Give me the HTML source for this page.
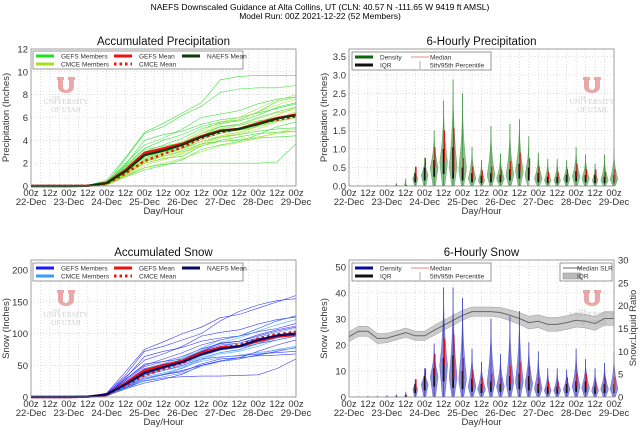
<!DOCTYPE html>
<html><head><meta charset="utf-8">
<style>
html,body{margin:0;padding:0;background:#fff;}
svg{display:block;font-family:"Liberation Sans","DejaVu Sans",sans-serif;}
</style></head>
<body>
<svg id="fig" width="640" height="430" viewBox="0 0 640 430">
<text x="320" y="10" font-size="8.5" text-anchor="middle" fill="#000">NAEFS Downscaled Guidance at Alta Collins, UT (CLN: 40.57 N -111.65 W 9419 ft AMSL)</text>
<text x="320" y="19" font-size="8.5" text-anchor="middle" fill="#000">Model Run: 00Z 2021-12-22 (52 Members)</text>
</svg>
<script>
// ---------- data ----------
const xTickLabels = ["00z","12z","00z","12z","00z","12z","00z","12z","00z","12z","00z","12z","00z","12z","00z"];
const dayLabels = ["22-Dec","23-Dec","24-Dec","25-Dec","26-Dec","27-Dec","28-Dec","29-Dec"];
const precipTicks = [0,2,4,6,8,10,12];
const precip6Ticks = [0,0.5,1.0,1.5,2.0,2.5,3.0,3.5];
const snowTicks = [0,50,100,150,200];
const snow6Ticks = [0,10,20,30,40,50];
const slrTicks = [0,5,10,15,20,25,30];

const gefsPrecipMembers = [
[0,0,0,0,.2,2.4,4.6,5.2,6.2,7.0,8.2,8.5,8.6,8.6,8.8],
[0,0,0,.05,.5,2.5,4.7,5.5,6.4,7.3,9.3,9.6,9.7,9.7,9.7],
[0,0,0,0,.1,1.0,2.0,2.4,2.6,3.5,4.0,4.3,4.6,4.7,4.8],
[0,0,0,0,.3,1.8,3.3,4.0,4.5,5.2,5.6,5.8,6.5,7.4,7.8],
[0,0,0,0,.1,.9,1.6,1.9,2.0,2.0,2.0,2.0,2.0,2.1,3.7],
[0,0,0,0,.2,1.5,2.9,3.2,3.6,4.4,5.2,5.4,6.0,6.5,6.9],
[0,0,0,0,.15,1.2,2.2,2.6,3.1,3.7,3.9,4.0,4.2,4.3,4.4],
[0,0,0,.02,.4,2.0,3.6,4.2,5.0,6.0,6.3,6.6,7.2,7.6,7.8],
[0,0,0,0,.1,.8,1.4,1.8,2.3,3.2,3.6,3.9,4.5,5.2,5.6],
[0,0,0,0,.3,1.7,3.2,3.5,3.8,4.6,5.2,5.3,5.7,6.0,6.2],
[0,0,0,0,.2,1.4,2.5,3.0,3.4,4.1,4.6,4.9,5.2,5.7,6.0],
[0,0,0,0,.25,1.9,4.0,4.5,4.8,5.4,5.8,6.0,6.4,6.8,7.2],
[0,0,0,0,.2,1.6,3.0,3.6,4.2,5.0,5.5,5.7,6.2,6.9,7.3],
[0,0,0,0,.1,1.1,2.3,2.9,3.3,3.9,4.3,4.5,4.8,5.0,5.1]
];
const cmcePrecipMembers = [
[0,0,0,0,.1,.9,1.8,2.3,2.8,3.6,4.2,4.5,5.0,5.6,6.0],
[0,0,0,0,.15,1.2,2.4,3.0,3.6,4.4,5.0,5.3,5.9,6.4,6.7],
[0,0,0,0,.1,1.0,2.0,2.4,2.9,3.7,4.3,4.6,5.2,5.8,6.3],
[0,0,0,0,.2,1.3,2.6,3.1,3.7,4.6,5.4,5.8,6.5,7.1,7.6],
[0,0,0,0,.1,.8,1.6,2.0,2.4,3.0,3.5,3.8,4.2,4.7,5.0],
[0,0,0,0,.15,1.1,2.3,2.8,3.2,3.9,4.4,4.7,5.3,5.9,6.5],
[0,0,0,0,.2,1.4,2.7,3.3,3.9,4.8,5.6,6.0,6.8,7.5,8.0],
[0,0,0,0,.1,1.0,2.1,2.6,3.0,3.5,3.9,4.1,4.3,4.6,4.8],
[0,0,0,0,.12,1.1,2.2,2.7,3.3,4.1,4.8,5.1,5.6,6.2,6.9]
];
const gefsPrecipMean = [0,0,0,.02,.28,1.4,2.9,3.3,3.7,4.35,4.85,5.0,5.5,5.95,6.25];
const cmcePrecipMean = [0,0,0,.02,.2,1.1,2.2,2.8,3.4,4.2,4.7,5.0,5.5,5.8,6.1];
const naefsPrecipMean = [0,0,0,.02,.25,1.3,2.7,3.1,3.6,4.3,4.8,5.0,5.4,5.9,6.2];

const gefsSnowMembers = [
[0,0,0,.5,5,35,72,80,90,100,120,135,145,152,155],
[0,0,0,.5,6,40,75,87,100,110,125,130,140,150,160],
[0,0,0,0,2,14,28,35,40,52,60,62,65,66,68],
[0,0,0,.5,4,28,50,60,70,82,90,96,108,120,128],
[0,0,0,0,2,15,25,30,32,33,33,34,35,45,60],
[0,0,0,.3,3,24,45,52,58,72,85,88,98,106,112],
[0,0,0,0,2,18,35,42,50,60,63,65,68,70,72],
[0,0,0,.4,6,32,58,68,80,96,102,106,115,122,126],
[0,0,0,0,2,13,22,28,36,50,57,62,72,82,90],
[0,0,0,.3,5,28,52,56,60,72,82,85,92,96,100],
[0,0,0,.3,3,22,40,48,55,66,74,78,84,90,96],
[0,0,0,.4,4,30,64,72,78,88,93,96,103,108,116],
[0,0,0,.3,4,26,48,56,64,76,84,88,96,104,110],
[0,0,0,0,2,16,30,36,42,50,56,60,66,72,78]
];
const cmceSnowMembers = [
[0,0,0,0,2,15,28,36,45,58,68,72,80,90,96],
[0,0,0,0,2,18,38,48,58,70,80,85,94,102,108],
[0,0,0,0,2,16,32,38,46,60,70,74,84,93,100],
[0,0,0,0,3,20,42,50,60,74,86,93,104,114,122],
[0,0,0,0,2,13,26,32,38,48,56,60,67,75,80],
[0,0,0,0,2,17,36,45,52,62,70,75,85,95,104],
[0,0,0,0,3,22,44,53,62,77,90,96,108,120,128],
[0,0,0,0,2,16,34,42,48,56,62,66,70,74,77],
[0,0,0,0,2,17,35,44,52,64,74,79,88,97,104]
];
const gefsSnowMean = [0,0,0,.5,4,22,42,50,57,70,78,80,88,95,98];
const cmceSnowMean = [0,0,0,.5,3,18,34,44,54,68,78,82,92,99,103];
const naefsSnowMean = [0,0,0,.5,4,20,38,47,55,67,76,80,90,97,100];

const precipMedian = [0,0,0,0,0,.01,.2,.3,.5,.65,.4,.3,.2,.15,.2,.2,.3,.4,.3,.2,.15,.15,.2,.25,.2,.15,.15,.15];
const precipQ3 = [0,0,0,0,.01,.02,.35,.5,.7,1.0,1.05,.5,.35,.28,.35,.3,.45,.6,.5,.35,.25,.25,.3,.4,.3,.3,.25,.3];
const precipP95 = [.01,.01,.01,.02,.08,.2,.52,.77,1.5,2.3,2.87,2.5,1.05,.7,1.62,.88,1.67,1.8,1.35,.9,.73,.73,.7,1.05,.85,.6,.85,1.0];

const snowMedian = [0,0,0,0,0,.2,3,5,8,12,7,6,4,3,4,4,5,6,5,3,2.5,2.5,3,4,3.5,2.5,3,3];
const snowQ3 = [0,0,0,0,.2,.5,5,8,11,15,16,10,7,5,6,5,8,9,8,5,4,4,5,6,6,4,5,5];
const snowP95 = [.2,.3,.3,.6,1,2,6.8,11,20.5,42,42,38,18.5,13.5,30,16.5,31,33,21,17.5,11,11,10.5,18.5,14.5,11,13,17];

const slrMedian = [13.2,14.4,14.4,12.8,12.9,13.5,14.1,13.4,13.4,14.6,15.7,16.8,17.9,18.7,18.7,18.7,18.5,17.9,17.2,16.3,16.6,15.9,15.9,16.3,16.8,16.6,16.1,17.2,17.2];
const slrIqrHalf = [1.1,1.1,1.1,1.1,1.0,1.0,1.0,1.0,1.0,1.1,1.1,1.1,1.1,1.0,1.0,1.0,1.1,1.2,1.3,1.4,1.4,1.5,1.5,1.5,1.5,1.5,1.5,1.5,1.5];

// ---------- drawing ----------
const NS="http://www.w3.org/2000/svg";
const svg=document.getElementById('fig');
function mk(tag,attrs,parent){const e=document.createElementNS(NS,tag);for(const k in attrs)e.setAttribute(k,attrs[k]);(parent||svg).appendChild(e);return e;}

function makeAxes(p){
  const g=mk('g',{});
  
  
  const xs=h=>p.x0+(p.x1-p.x0)*h/168;
  const ys=v=>p.y1-(p.y1-p.y0)*v/p.ymax;
  mk('rect',{x:p.x0,y:p.y0,width:p.x1-p.x0,height:p.y1-p.y0,fill:'#fff'},g);
  for(let h=6;h<168;h+=6){const l=mk('line',{x1:xs(h),x2:xs(h),y1:p.y0,y2:p.y1,stroke:'#c8c8c8','stroke-width':0.6,'stroke-dasharray':'1,2'},g);
    
    }
  p.yTicks.forEach(v=>{const l=mk('line',{x1:p.x0,x2:p.x1,y1:ys(v),y2:ys(v),stroke:'#c8c8c8','stroke-width':0.6,'stroke-dasharray':'1,2'},g);
    
    
    const t=mk('text',{x:p.x0-3,y:ys(v)+3.5,'font-size':9.5,'text-anchor':'end',fill:'#333'},g);t.textContent=p.yFmt(v);
    
    });
  xTickLabels.forEach((s,i)=>{const t=mk('text',{x:xs(i*12),y:p.y1+10,'font-size':9.5,'text-anchor':'middle',fill:'#333'},g);t.textContent=s;
    
    });
  dayLabels.forEach((s,i)=>{const t=mk('text',{x:xs(i*24),y:p.y1+19,'font-size':9.5,'text-anchor':'middle',fill:'#333'},g);t.textContent=s;
    
    });
  const xl=mk('text',{x:(p.x0+p.x1)/2,y:p.y1+28,'font-size':9.5,'text-anchor':'middle',fill:'#333'},g);xl.textContent='Day/Hour';
  
  
  const yl=mk('text',{x:0,y:0,'font-size':9.5,'text-anchor':'middle',fill:'#333',transform:`translate(${p.x0-22},${(p.y0+p.y1)/2}) rotate(-90)`},g);yl.textContent=p.ylabel;
  
  
  const tt=mk('text',{x:(p.x0+p.x1)/2,y:p.y0-4,'font-size':11.5,'text-anchor':'middle',fill:'#111'},g);tt.textContent=p.title;
  
  
  const plot=mk('g',{},g);
  return {g,plot,xs,ys,p};
}
function frame(A){const p=A.p;const r=mk('rect',{x:p.x0,y:p.y0,width:p.x1-p.x0,height:p.y1-p.y0,fill:'none',stroke:'#888','stroke-width':0.8},A.g);
  
  }
function logo(g,x,y){
  const lg=mk('g',{opacity:0.45},g);
  
  
  mk('path',{d:`M${x-9} ${y} h7 v3 h-1 v7 a2 2 0 0 0 6 0 v-7 h-1 v-3 h7 v3 h-1 v7 a8 6 0 0 1 -16 0 v-7 h-1 z`,fill:'#d24040'},lg);
  const t1=mk('text',{x:x-10,y:y+22,'font-size':4.5,'text-anchor':'middle',fill:'#999','font-family':'Liberation Serif, serif'},lg);t1.textContent='THE';
  const t2=mk('text',{x:x,y:y+27,'font-size':7.5,'text-anchor':'middle',fill:'#999','font-family':'Liberation Serif, serif'},lg);t2.textContent='UNIVERSITY';
  const t3=mk('text',{x:x,y:y+35,'font-size':7,'text-anchor':'middle',fill:'#999','font-family':'Liberation Serif, serif'},lg);t3.textContent='OF UTAH';
}
function line(A,arr,step,attrs,name){
  const pts=arr.map((v,i)=>A.xs(i*step).toFixed(1)+','+A.ys(v).toFixed(1)).join(' ');
  const l=mk('polyline',Object.assign({points:pts,fill:'none'},attrs),A.plot);
  
  
  return l;
}
function legendBox(g,x,y,w,h,items){
  const lg=mk('g',{},g);
  
  
  mk('rect',{x,y,width:w,height:h,fill:'#fff',stroke:'#555','stroke-width':0.6},lg);
  items.forEach(it=>{
    const e=mk('g',{},lg);
    
    
    if(it.type==='line') mk('line',{x1:it.x,x2:it.x+18,y1:it.y,y2:it.y,stroke:it.c,'stroke-width':it.w||3,'stroke-dasharray':it.d||'none'},e);
    if(it.type==='vbar') mk('line',{x1:it.x+9,x2:it.x+9,y1:it.y-4,y2:it.y+4,stroke:it.c,'stroke-width':0.8},e);
    if(it.type==='patch') mk('rect',{x:it.x,y:it.y-3,width:18,height:6,fill:it.c,stroke:'#888','stroke-width':0.5},e);
    const t=mk('text',{x:it.x+(it.tx||25),y:it.y+2.5,'font-size':6.5,fill:'#333'},e);t.textContent=it.t;
  });
}
function violins(A,med,q3,p95,color,name){
  for(let k=0;k<p95.length;k++){
    const h=(k+1)*6, cx=A.xs(h);
    const top=p95[k], m=Math.max(med[k],top*0.18);
    const W=4.0*Math.min(1,0.2+top/(A.p.ymax*0.3));
    const left=[],right=[];
    const N=24;
    for(let i=0;i<=N;i++){
      const v=top*i/N;
      let w = v<=m ? (0.3+0.7*(m>0?v/m:1)) : Math.pow((top-v)/(top-m),2.2);
      w*=W;
      left.push((cx-w).toFixed(1)+','+A.ys(v).toFixed(1));
      right.unshift((cx+w).toFixed(1)+','+A.ys(v).toFixed(1));
    }
    const vg=mk('g',{},A.plot);
    
    
    mk('polygon',{points:left.concat(right).join(' '),fill:color,'fill-opacity':0.55,stroke:color,'stroke-opacity':0.7,'stroke-width':0.4},vg);
    mk('line',{x1:cx,x2:cx,y1:A.ys(0),y2:A.ys(top),stroke:color,'stroke-width':0.8,'stroke-opacity':0.8},vg);
    mk('line',{x1:cx,x2:cx,y1:A.ys(med[k]*0.5),y2:A.ys(q3[k]),stroke:'#111','stroke-width':1.8},vg);
    mk('line',{x1:cx+0.8,x2:cx+0.8,y1:A.ys(med[k]),y2:A.ys(Math.min(top,q3[k]*1.5)),stroke:'#e01010','stroke-width':1.1},vg);
  }
}

// ---- Chart 1: Accumulated Precipitation ----
const A1=makeAxes({name:'accumulated-precip-chart',x0:31,x1:296,y0:49,y1:186,ymax:12,yTicks:precipTicks,yFmt:v=>v,ylabel:'Precipitation (Inches)',title:'Accumulated Precipitation'});
logo(A1.g,66,77);
gefsPrecipMembers.forEach(m=>line(A1,m,12,{stroke:'#22dd22','stroke-width':0.6,'stroke-opacity':0.85},'gefs-member-line'));
cmcePrecipMembers.forEach(m=>line(A1,m,12,{stroke:'#a8dd22','stroke-width':0.6,'stroke-opacity':0.85},'cmce-member-line'));
line(A1,gefsPrecipMean,12,{stroke:'#ee1111','stroke-width':2.4},'gefs-mean-line');
line(A1,cmcePrecipMean,12,{stroke:'#ee1111','stroke-width':2.4,'stroke-dasharray':'2.5,3'},'cmce-mean-line');
line(A1,naefsPrecipMean,12,{stroke:'#0a3a0a','stroke-width':2.2},'naefs-mean-line');
legendBox(A1.g,33,51,210,18,[
 {type:'line',x:36,y:56,c:'#22dd22',t:'GEFS Members'},{type:'line',x:36,y:64,c:'#a8dd22',t:'CMCE Members'},
 {type:'line',x:114,y:56,c:'#ee1111',t:'GEFS Mean'},{type:'line',x:114,y:64,c:'#ee1111',d:'2.5,3',t:'CMCE Mean'},
 {type:'line',x:182,y:56,c:'#0a3a0a',t:'NAEFS Mean'}]);
frame(A1);

// ---- Chart 2: 6-hourly precipitation ----
const A2=makeAxes({name:'six-hourly-precip-chart',x0:349,x1:614,y0:49,y1:186,ymax:3.7,yTicks:precip6Ticks,yFmt:v=>v.toFixed(1),ylabel:'Precipitation (Inches)',title:'6-Hourly Precipitation'});
logo(A2.g,592,77);
violins(A2,precipMedian,precipQ3,precipP95,'#2e8b2e','precip-violin');
legendBox(A2.g,352,52,139,18,[
 {type:'line',x:355,y:57,c:'#0a6a0a',t:'Density'},{type:'line',x:355,y:65,c:'#111',t:'IQR'},
 {type:'line',x:411,y:57,c:'#f08080',w:1,tx:19,t:'Median'},{type:'vbar',x:411,y:65,c:'#999',tx:19,t:'5th/95th Percentile'}]);
frame(A2);

// ---- Chart 3: Accumulated Snow ----
const A3=makeAxes({name:'accumulated-snow-chart',x0:31,x1:296,y0:260,y1:397,ymax:216,yTicks:snowTicks,yFmt:v=>v,ylabel:'Snow (Inches)',title:'Accumulated Snow'});
logo(A3.g,66,290);
gefsSnowMembers.forEach(m=>line(A3,m,12,{stroke:'#1a1aff','stroke-width':0.6,'stroke-opacity':0.85},'gefs-member-line'));
cmceSnowMembers.forEach(m=>line(A3,m,12,{stroke:'#3a9aff','stroke-width':0.6,'stroke-opacity':0.85},'cmce-member-line'));
line(A3,gefsSnowMean,12,{stroke:'#ee1111','stroke-width':2.4},'gefs-mean-line');
line(A3,cmceSnowMean,12,{stroke:'#ee1111','stroke-width':2.4,'stroke-dasharray':'2.5,3'},'cmce-mean-line');
line(A3,naefsSnowMean,12,{stroke:'#0a0a66','stroke-width':2.2},'naefs-mean-line');
legendBox(A3.g,33,263,210,18,[
 {type:'line',x:36,y:268,c:'#1a1aff',t:'GEFS Members'},{type:'line',x:36,y:276,c:'#3a9aff',t:'CMCE Members'},
 {type:'line',x:114,y:268,c:'#ee1111',t:'GEFS Mean'},{type:'line',x:114,y:276,c:'#ee1111',d:'2.5,3',t:'CMCE Mean'},
 {type:'line',x:182,y:268,c:'#0a0a66',t:'NAEFS Mean'}]);
frame(A3);

// ---- Chart 4: 6-hourly Snow ----
const A4=makeAxes({name:'six-hourly-snow-chart',x0:349,x1:614,y0:260,y1:397,ymax:52.6,yTicks:snow6Ticks,yFmt:v=>v,ylabel:'Snow (Inches)',title:'6-Hourly Snow'});
logo(A4.g,592,290);
const slrScale=v=>397-137*v/30;
const band=slrMedian.map((v,i)=>A4.xs(i*6).toFixed(1)+','+slrScale(v+slrIqrHalf[i]).toFixed(1))
 .concat(slrMedian.map((v,i)=>A4.xs(i*6).toFixed(1)+','+slrScale(v-slrIqrHalf[i]).toFixed(1)).reverse());
const bd=mk('polygon',{points:band.join(' '),fill:'#aaa','fill-opacity':0.6,stroke:'#999','stroke-width':0.5},A4.plot);


const sl=mk('polyline',{points:slrMedian.map((v,i)=>A4.xs(i*6).toFixed(1)+','+slrScale(v).toFixed(1)).join(' '),fill:'none',stroke:'#666','stroke-width':1},A4.plot);


violins(A4,snowMedian,snowQ3,snowP95,'#3030c0','snow-violin');
slrTicks.forEach(v=>{const t=mk('text',{x:618,y:slrScale(v)+3.5,'font-size':9.5,fill:'#333'},A4.g);t.textContent=v;
  
  });
const ry=mk('text',{x:0,y:0,'font-size':9.5,'text-anchor':'middle',fill:'#333',transform:`translate(636,328) rotate(-90)`},A4.g);ry.textContent='Snow:Liquid Ratio';


legendBox(A4.g,352,263,139,18,[
 {type:'line',x:355,y:268,c:'#0a0a99',t:'Density'},{type:'line',x:355,y:276,c:'#111',t:'IQR'},
 {type:'line',x:411,y:268,c:'#f08080',w:1,tx:19,t:'Median'},{type:'vbar',x:411,y:276,c:'#999',tx:19,t:'5th/95th Percentile'}]);
legendBox(A4.g,560,263,52,18,[
 {type:'line',x:563,y:268,c:'#666',w:1,tx:14,t:'Median SLR'},{type:'patch',x:563,y:276,c:'#bbb',tx:14,t:'IQR'}]);
frame(A4);
</script>
</body></html>
